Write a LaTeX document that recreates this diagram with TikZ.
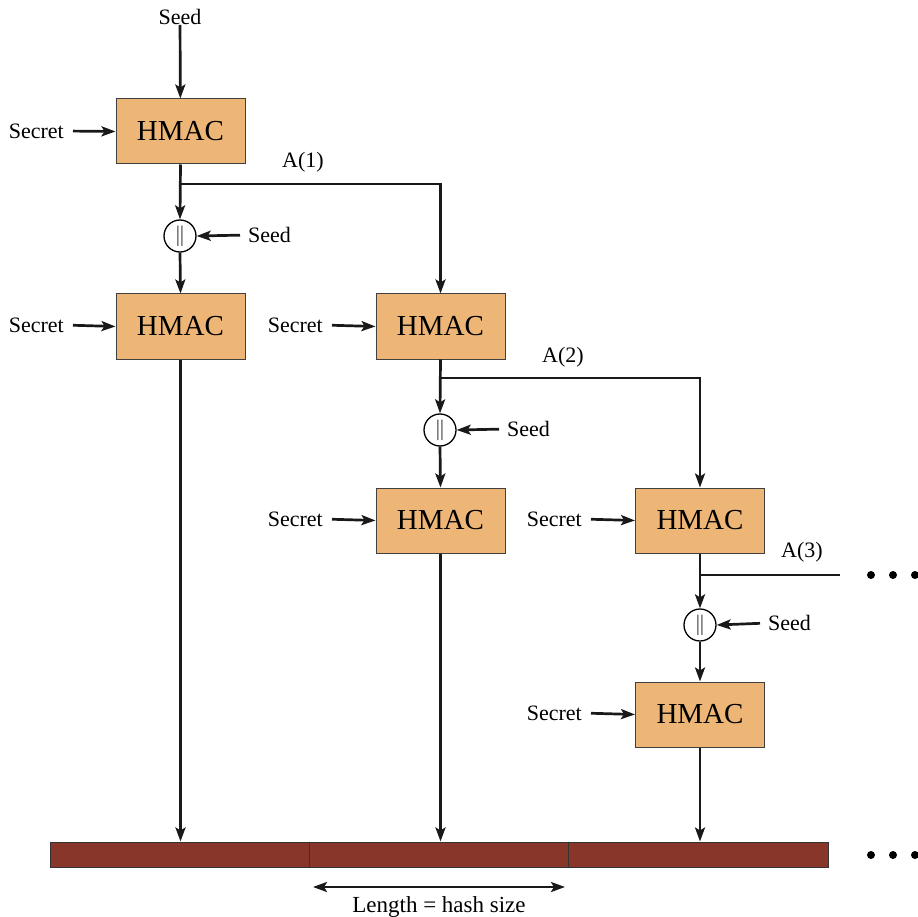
\documentclass[tikz,border=0pt]{standalone}
\usepackage{fontspec}
\setmainfont{Liberation Serif}
\usetikzlibrary{arrows.meta}
\definecolor{hmacfill}{HTML}{EDB677}
\definecolor{barfill}{HTML}{873629}
\begin{document}
\begin{tikzpicture}[x=1pt,y=-1pt,
  hmac/.style={draw=black!75, line width=1pt, fill=hmacfill, minimum width=129pt, minimum height=65pt, inner sep=0pt, font=\fontsize{29}{31}\selectfont},
  cat/.style={circle, draw, line width=1.3pt, minimum size=32pt, inner sep=0pt, font=\fontsize{22}{24}\selectfont},
  lbl/.style={font=\fontsize{22}{24}\selectfont, inner sep=0pt},
  wire/.style={line width=2.7pt, draw=black!90},
  tip/.style={-{Stealth[length=14pt,width=10pt,inset=3pt]}},
  arr/.style={wire, tip},
  seg/.style={draw=black!80, line width=1pt, fill=barfill, minimum height=25pt, inner sep=0pt},
  dot/.style={circle, fill=black, minimum size=8pt, inner sep=0pt}]
\useasboundingbox (0,0) rectangle (918,917);

% column 1
\node[lbl] (seed0) at (180,17) {Seed};
\node[hmac] (h1) at (180.5,131.5) {HMAC};
\node[lbl, anchor=east] (s1) at (64,131) {Secret};
\node[cat] (c1) at (180,236) {$\|$};
\node[lbl, anchor=west] (sd1) at (248,235) {Seed};
\node[hmac] (h2) at (180.5,326.5) {HMAC};
\node[lbl, anchor=east] (s2) at (64,325) {Secret};

% column 2
\node[hmac] (h3) at (440.5,326.5) {HMAC};
\node[lbl, anchor=east] (s3) at (323,325) {Secret};
\node[cat] (c2) at (440,430) {$\|$};
\node[lbl, anchor=west] (sd2) at (507,429) {Seed};
\node[hmac] (h4) at (440.5,520.5) {HMAC};
\node[lbl, anchor=east] (s4) at (323,519) {Secret};

% column 3
\node[hmac] (h5) at (700,520.5) {HMAC};
\node[lbl, anchor=east] (s5) at (582,519) {Secret};
\node[cat] (c3) at (700,625) {$\|$};
\node[lbl, anchor=west] (sd3) at (768,623) {Seed};
\node[hmac] (h6) at (700,714.5) {HMAC};
\node[lbl, anchor=east] (s6) at (582,713) {Secret};

% output bar
\node[seg, minimum width=259pt] (b1) at (179.5,854.5) {};
\node[seg, minimum width=259pt] (b2) at (438.5,854.5) {};
\node[seg, minimum width=260pt] (b3) at (698,854.5) {};
\draw[black!80, line width=1pt] (b1.north east) -- (b1.south east);
\draw[black!80, line width=1pt] (b2.north east) -- (b2.south east);

% labels A(i)
\node[lbl] (a1) at (303,162) {A(1)};
\node[lbl] (a2) at (563,357) {A(2)};
\node[lbl] (a3) at (802,552) {A(3)};

% junctions
\coordinate (j1) at (180,184);
\coordinate (j2) at (440,378);
\coordinate (j3) at (700,575);
\coordinate (e3) at (840,575);

% dots
\node[dot] (d1) at (871,575) {};
\node[dot] (d2) at (893,575) {};
\node[dot] (d3) at (915,575) {};
\node[dot] (d4) at (871,855) {};
\node[dot] (d5) at (893,855) {};
\node[dot] (d6) at (915,855) {};

% connectors
\draw[arr] (seed0) -- (h1);
\foreach \s/\h in {s1/h1,s2/h2,s3/h3,s4/h4,s5/h5,s6/h6}
  \draw[arr, shorten <=9pt] (\s.east) -- (\h.west);
\foreach \s/\c in {sd1/c1,sd2/c2,sd3/c3}
  \draw[arr, shorten <=8pt] (\s.west) -- (\c.east);
\draw[arr] (h1.south) -- (c1.north);
\draw[arr] (c1.south) -- (h2.north);
\draw[arr] (j1) -| (h3.north);
\draw[arr] (h3.south) -- (c2.north);
\draw[arr] (c2.south) -- (h4.north);
\draw[arr] (j2) -| (h5.north);
\draw[arr] (h5.south) -- (c3.north);
\draw[arr] (c3.south) -- (h6.north);
\draw[wire] (j3) -- (e3);
\draw[arr] (h2.south) -- (h2.south |- b1.north);
\draw[arr] (h4.south) -- (h4.south |- b2.north);
\draw[arr] (h6.south) -- (h6.south |- b3.north);

% length arrow
\coordinate (l1) at (313,887);
\coordinate (l2) at (565,887);
\draw[wire, {Stealth[length=14pt,width=10pt,inset=3pt]}-{Stealth[length=14pt,width=10pt,inset=3pt]}] (l1) -- (l2);
\node[lbl, font=\fontsize{23}{25}\selectfont] (len) at (439,907) {Length = hash size};
\end{tikzpicture}
\end{document}
